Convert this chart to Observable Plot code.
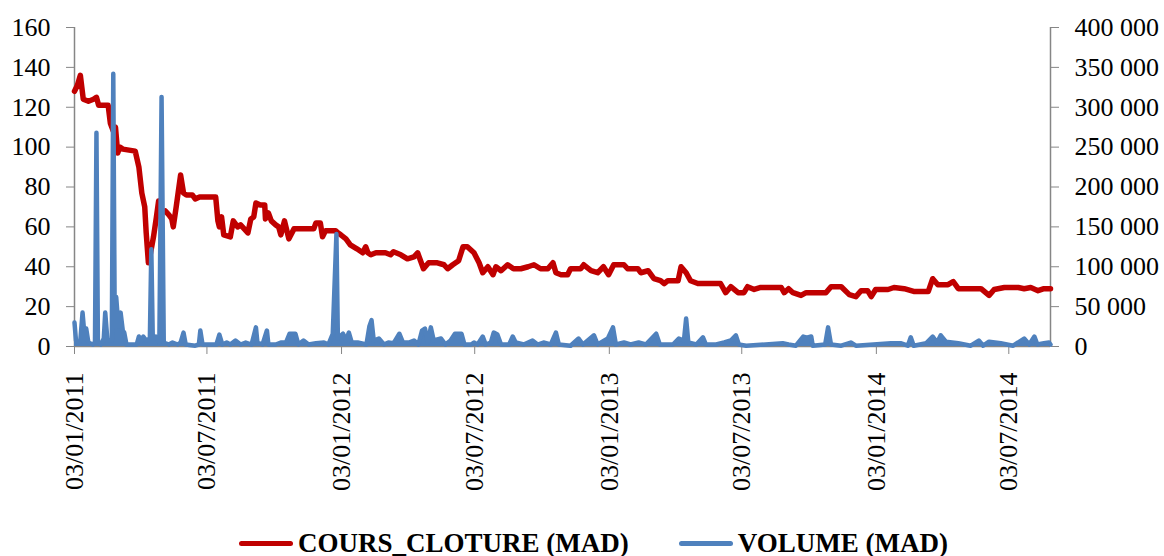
<!DOCTYPE html>
<html><head><meta charset="utf-8">
<script src="https://cdn.jsdelivr.net/npm/d3@7"></script>
<script src="https://cdn.jsdelivr.net/npm/@observablehq/plot@0.6"></script>
<style>
body{margin:0;background:#fff;font-family:"Liberation Serif","Times New Roman",serif;}
#legend{display:flex;align-items:center;height:26px;padding-left:239px;font-weight:bold;font-size:27px;color:#000;white-space:nowrap;}
.sw{width:54px;height:5px;border-radius:3px;margin-right:5px;}
</style></head><body>
<div id="chart"></div>
<div id="legend"></div>
<script>
// ---- data ----
const seriesNames = ["COURS_CLOTURE (MAD)", "VOLUME (MAD)"];
const seriesColors = ["#C00000", "#4F81BD"];

const priceDates = ["2011-01-03","2011-01-07","2011-01-11","2011-01-15","2011-01-22","2011-01-29","2011-02-02","2011-02-05","2011-02-18","2011-02-21","2011-02-25","2011-02-28","2011-03-03","2011-03-06","2011-03-10","2011-03-27","2011-04-01","2011-04-05","2011-04-09","2011-04-11","2011-04-14","2011-04-17","2011-04-21","2011-04-25","2011-04-28","2011-05-01","2011-05-07","2011-05-12","2011-05-16","2011-05-18","2011-05-22","2011-05-28","2011-06-01","2011-06-05","2011-06-13","2011-06-17","2011-06-23","2011-07-15","2011-07-18","2011-07-20","2011-07-23","2011-07-26","2011-08-04","2011-08-08","2011-08-14","2011-08-18","2011-08-23","2011-08-28","2011-09-01","2011-09-05","2011-09-08","2011-09-14","2011-09-20","2011-09-21","2011-09-25","2011-09-29","2011-10-05","2011-10-09","2011-10-12","2011-10-17","2011-10-23","2011-10-30","2011-11-26","2011-11-29","2011-12-05","2011-12-08","2011-12-12","2011-12-26","2011-12-29","2012-01-02","2012-01-09","2012-01-15","2012-01-24","2012-02-01","2012-02-05","2012-02-08","2012-02-12","2012-02-19","2012-03-03","2012-03-10","2012-03-14","2012-03-24","2012-04-02","2012-04-11","2012-04-16","2012-04-24","2012-05-01","2012-05-13","2012-05-22","2012-05-27","2012-06-03","2012-06-11","2012-06-17","2012-06-23","2012-07-02","2012-07-09","2012-07-14","2012-07-21","2012-07-28","2012-08-01","2012-08-08","2012-08-17","2012-08-25","2012-09-04","2012-09-14","2012-09-22","2012-10-01","2012-10-11","2012-10-18","2012-10-22","2012-10-29","2012-11-07","2012-11-11","2012-11-25","2012-11-29","2012-12-09","2012-12-18","2012-12-26","2013-01-02","2013-01-09","2013-01-23","2013-01-28","2013-02-11","2013-02-15","2013-02-25","2013-03-05","2013-03-14","2013-03-19","2013-03-24","2013-04-07","2013-04-11","2013-04-18","2013-04-24","2013-05-04","2013-06-04","2013-06-11","2013-06-18","2013-06-28","2013-07-06","2013-07-11","2013-07-20","2013-07-29","2013-08-26","2013-08-30","2013-09-05","2013-09-11","2013-09-22","2013-09-29","2013-10-26","2013-11-02","2013-11-16","2013-11-27","2013-12-06","2013-12-13","2013-12-22","2013-12-27","2014-01-02","2014-01-19","2014-01-27","2014-02-10","2014-02-23","2014-03-15","2014-03-21","2014-03-28","2014-04-11","2014-04-18","2014-04-25","2014-05-26","2014-06-06","2014-06-13","2014-06-27","2014-07-16","2014-07-24","2014-08-02","2014-08-12","2014-08-20","2014-08-29"];
const priceValues = [128,131,136,124,123,124,125,121,121,112,108,110,97,100,99,98,90,77,70,57,42,47,55,65,73,67,68,66,64,60,70,86,77,76,76,74,75,75,63,60,65,56,55,63,60,61,59,57,64,65,72,71,71,64,67,63,61,60,56,63,54,59,59,62,62,55,58,58,57,56,54,51,49,47,50,47,46,47,47,46,47.5,46,44,45,47,39,42,42,41,39,41,43,50,50,47,42,37,40,36,40,38,41,39,39,40,41,39,39,42,37,36,36,39,39,41,38,37,40,36,41,41,39,39,37,38,34,33,31.5,33,33,40,37,33,31.6,31.6,27,30,27,27,30,28.6,29.6,29.6,27,29,27,25.6,27,27,30,30,26,25,28,28,25,28.6,28.6,29.6,29,27.6,27.6,34,31,31,32.6,29,29,25.6,28.6,29.6,29.6,29,29.6,28,29,29];

const volumeDates = ["2011-01-03","2011-01-05","2011-01-08","2011-01-11","2011-01-14","2011-01-17","2011-01-19","2011-01-22","2011-01-28","2011-01-31","2011-02-02","2011-02-04","2011-02-08","2011-02-12","2011-02-14","2011-02-17","2011-02-23","2011-02-25","2011-02-27","2011-03-01","2011-03-04","2011-03-07","2011-03-10","2011-03-12","2011-03-15","2011-03-29","2011-04-01","2011-04-05","2011-04-07","2011-04-11","2011-04-16","2011-04-18","2011-04-20","2011-04-24","2011-04-29","2011-05-02","2011-05-05","2011-05-12","2011-05-17","2011-05-24","2011-05-28","2011-06-01","2011-06-04","2011-06-17","2011-06-22","2011-06-24","2011-06-27","2011-07-16","2011-07-20","2011-07-24","2011-07-30","2011-08-04","2011-08-11","2011-08-18","2011-08-25","2011-09-02","2011-09-08","2011-09-10","2011-09-17","2011-09-23","2011-09-25","2011-10-05","2011-10-12","2011-10-19","2011-10-24","2011-11-01","2011-11-05","2011-11-12","2011-11-19","2011-11-29","2011-12-10","2011-12-16","2011-12-22","2011-12-27","2011-12-29","2012-01-05","2012-01-09","2012-01-13","2012-01-17","2012-01-25","2012-02-06","2012-02-10","2012-02-13","2012-02-16","2012-02-23","2012-03-01","2012-03-07","2012-03-14","2012-03-22","2012-03-27","2012-04-04","2012-04-11","2012-04-17","2012-04-22","2012-04-26","2012-04-30","2012-05-04","2012-05-08","2012-05-18","2012-05-24","2012-05-31","2012-06-06","2012-06-15","2012-06-19","2012-06-28","2012-07-02","2012-07-07","2012-07-14","2012-07-18","2012-07-25","2012-07-29","2012-08-03","2012-08-08","2012-08-19","2012-08-24","2012-08-28","2012-09-08","2012-09-20","2012-09-27","2012-10-05","2012-10-15","2012-10-22","2012-10-26","2012-11-11","2012-11-22","2012-11-28","2012-12-13","2012-12-18","2013-01-01","2013-01-08","2013-01-12","2013-01-23","2013-02-01","2013-02-12","2013-02-22","2013-03-08","2013-03-13","2013-03-31","2013-04-08","2013-04-15","2013-04-18","2013-04-21","2013-05-02","2013-05-11","2013-05-15","2013-05-29","2013-06-09","2013-06-18","2013-06-25","2013-06-29","2013-07-09","2013-08-28","2013-09-05","2013-09-15","2013-09-25","2013-09-30","2013-10-06","2013-10-08","2013-10-25","2013-10-29","2013-11-02","2013-11-16","2013-11-29","2013-12-06","2014-01-23","2014-02-06","2014-02-15","2014-02-19","2014-02-23","2014-03-12","2014-03-21","2014-03-27","2014-04-01","2014-04-08","2014-04-25","2014-05-12","2014-05-23","2014-05-29","2014-06-06","2014-06-22","2014-07-09","2014-07-24","2014-07-31","2014-08-07","2014-08-11","2014-08-20","2014-08-27","2014-08-29"];
const volumeValues = [30000,7500,5000,7500,42500,10000,22500,5000,2500,5000,268000,5000,2500,10000,42500,7500,7500,342000,25000,62000,25000,42500,20000,17500,2500,2500,12500,7500,12500,7500,10000,122000,10000,12500,5000,313000,5000,2500,5000,2500,5000,17500,2500,1000,2500,20000,2500,2500,15000,2500,5000,2500,7500,2500,5000,2500,24000,5000,2500,20000,2500,2500,5000,5000,16000,16000,2500,7500,2500,4000,5000,2500,16000,141000,10000,16000,7500,17500,5000,5000,2500,25000,33000,7500,10000,2500,5000,4000,16000,5000,5000,7500,2500,20000,22500,5000,24000,7500,10000,2500,7500,16000,16000,2500,2500,5000,2500,12500,2500,5000,17500,15000,2500,2500,12500,5000,2500,7500,2500,5000,2500,17500,2500,1000,10000,2500,14000,2500,10000,24000,2500,5000,2500,5000,2500,16000,2500,2500,10000,7500,35000,5000,2500,11500,2500,2500,5000,7500,14000,2500,1000,4000,2500,1000,12500,11000,12500,1000,2500,24000,2500,1000,5000,1000,4000,4000,1000,11500,1000,4000,12500,5000,14000,6000,4000,1000,7500,1000,6000,4000,1000,10000,2500,12500,2500,4000,5000,2500];

const xTickDates = ["2011-01-03","2011-07-03","2012-01-03","2012-07-03","2013-01-03","2013-07-03","2014-01-03","2014-07-03"];
const xDomain = ["2011-01-03","2014-08-29"];
const priceTicks = [0,20,40,60,80,100,120,140,160];
const volumeTicks = [0,50000,100000,150000,200000,250000,300000,350000,400000];

// ---- chart ----
const parse = d3.utcParse("%Y-%m-%d");
const ratio = volumeTicks[volumeTicks.length-1] / priceTicks[priceTicks.length-1];
const price = priceDates.map((d,i)=>({date:parse(d), value:priceValues[i]}));
const volume = volumeDates.map((d,i)=>({date:parse(d), value:volumeValues[i]}));
const x0 = parse(xDomain[0]), x1 = parse(xDomain[1]);
const fmtVol = v => d3.format(",")(v).replace(/,/g, "\u00a0");
const axisGray = "#868686";

const chart = Plot.plot({
  width: 1164, height: 530,
  marginLeft: 74, marginRight: 114, marginTop: 27, marginBottom: 184,
  style: {fontFamily: "'Liberation Serif','Times New Roman',serif", fontSize: "26px", color: "#000", background: "#fff", overflow: "visible"},
  x: {type: "utc", domain: [x0, x1]},
  y: {domain: [priceTicks[0], priceTicks[priceTicks.length-1]]},
  marks: [
    Plot.ruleX([x0], {y1: 0, y2: 160, stroke: axisGray, strokeWidth: 1.5}),
    Plot.ruleX([x1], {y1: 0, y2: 160, stroke: axisGray, strokeWidth: 1.5}),
    Plot.ruleY([0], {stroke: axisGray, strokeWidth: 1.5}),
    Plot.axisY({anchor: "left", ticks: priceTicks, tickSize: 8, tickPadding: 16, label: null, stroke: axisGray, fill: "#000"}),
    Plot.axisY({anchor: "right", ticks: priceTicks, tickFormat: d => fmtVol(d*ratio), tickSize: 8, tickPadding: 16, label: null, stroke: axisGray, fill: "#000"}),
    Plot.axisX({ticks: xTickDates.map(parse), tickFormat: d3.utcFormat("%d/%m/%Y"), tickRotate: -90, tickSize: 8, tickPadding: 18, label: null, stroke: axisGray, fill: "#000"}),
    Plot.line(price, {x: "date", y: "value", stroke: seriesColors[0], strokeWidth: 5.5, strokeLinejoin: "round", strokeLinecap: "round"}),
    Plot.areaY(volume, {x: "date", y: d => d.value/ratio, fill: seriesColors[1]}),
    Plot.line(volume, {x: "date", y: d => d.value/ratio, stroke: seriesColors[1], strokeWidth: 4.5, strokeLinejoin: "round", strokeLinecap: "round"})
  ]
});
document.getElementById("chart").append(chart);

const legend = document.getElementById("legend");
seriesNames.forEach((name, i) => {
  const sw = document.createElement("span");
  sw.className = "sw"; sw.style.background = seriesColors[i];
  const tx = document.createElement("span");
  tx.textContent = name;
  tx.style.marginRight = i === 0 ? "50px" : "0";
  legend.append(sw, tx);
});
</script>
</body></html>
